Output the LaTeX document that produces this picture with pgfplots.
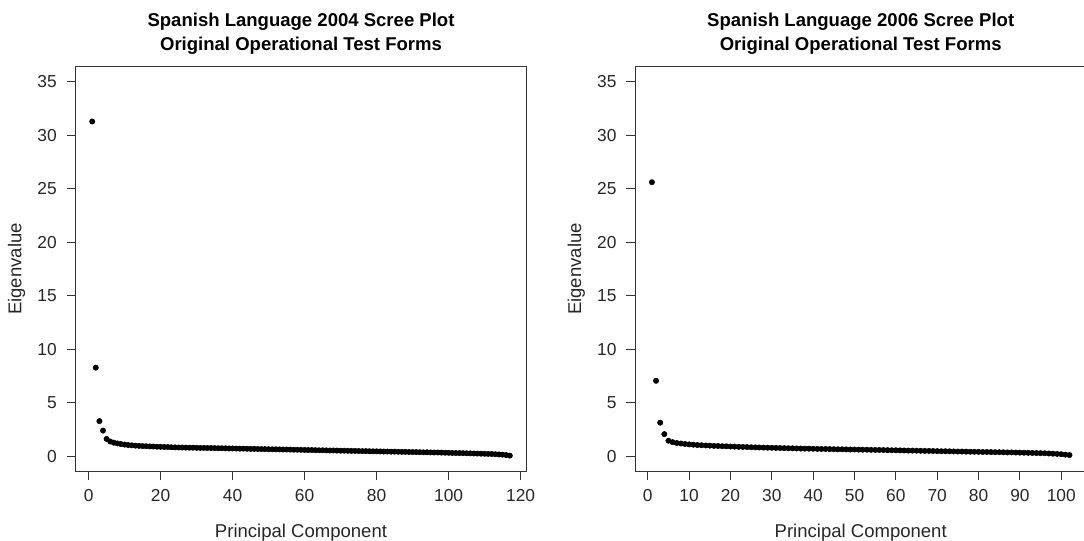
\documentclass[border=0pt]{standalone}
\usepackage{fontspec}
\setmainfont{Liberation Sans}
\usepackage{pgfplots}
\pgfplotsset{compat=1.18}

% 1 px of the 1084 x 541 layout = 0.75pt
\pgfplotsset{
  scree/.style={
    scale only axis,
    width=338.25pt, height=303pt,
    ymin=-1.4, ymax=36.4,
    ytick={0,5,...,35},
    xtick pos=bottom, ytick pos=left,
    tick align=outside,
    major tick length=6.75pt,
    axis line style={line width=0.75pt, black!80},
    every tick/.style={line width=0.75pt, black!80},
    /pgf/number format/assume math mode=true,
    tick label style={font=\fontsize{13}{15}\selectfont, text=black!85},
    xticklabel style={inner sep=0pt, anchor=north, yshift=-7.2pt},
    yticklabel style={inner sep=0pt, anchor=east, xshift=-7.1pt},
    label style={font=\fontsize{13.9}{16}\selectfont, text=black!85},
    xlabel style={at={(axis description cs:0.5,0)}, anchor=base, inner sep=0pt, yshift=-49.5pt},
    ylabel style={at={([xshift=-40.6pt]axis description cs:0,0.5)}, anchor=base, inner sep=0pt},
    xlabel={Principal Component},
    ylabel={Eigenvalue},
    title style={at={(axis description cs:0.5,1)}, anchor=north, inner sep=0pt,
      yshift=34.5pt, align=center, font=\bfseries\fontsize{13.9}{18}\selectfont},
  },
  scree dots/.style={only marks, mark=*, mark size=2pt, black},
}

\begin{document}
\begin{tikzpicture}
\path[use as bounding box] (0,0) rectangle (813pt,-405.75pt);
\clip (0,0) rectangle (813pt,-405.75pt);

% ---- 2004 forms ----
\begin{axis}[scree,
  at={(56.63pt,-353.25pt)}, anchor=south west,
  xmin=-3.64, xmax=121.64,
  xtick={0,20,...,120},
  title={Spanish Language 2004 Scree Plot\\Original Operational Test Forms}]
\addplot[scree dots] table {
x y
1 31.30
2 8.27
3 3.27
4 2.38
5 1.60
6 1.36
7 1.25
8 1.18
9 1.12
10 1.07
11 1.03
12 1.00
13 0.97
14 0.95
15 0.93
16 0.92
17 0.90
18 0.89
19 0.87
20 0.86
21 0.85
22 0.84
23 0.82
24 0.81
25 0.80
26 0.80
27 0.79
28 0.78
29 0.78
30 0.77
31 0.76
32 0.76
33 0.75
34 0.75
35 0.74
36 0.73
37 0.73
38 0.72
39 0.71
40 0.71
41 0.70
42 0.69
43 0.69
44 0.68
45 0.67
46 0.67
47 0.66
48 0.65
49 0.65
50 0.64
51 0.63
52 0.63
53 0.62
54 0.61
55 0.61
56 0.60
57 0.59
58 0.59
59 0.58
60 0.57
61 0.56
62 0.56
63 0.55
64 0.54
65 0.54
66 0.53
67 0.52
68 0.52
69 0.51
70 0.50
71 0.50
72 0.49
73 0.48
74 0.48
75 0.47
76 0.46
77 0.46
78 0.45
79 0.44
80 0.44
81 0.43
82 0.42
83 0.42
84 0.41
85 0.41
86 0.40
87 0.39
88 0.39
89 0.38
90 0.37
91 0.37
92 0.36
93 0.35
94 0.35
95 0.34
96 0.33
97 0.33
98 0.32
99 0.31
100 0.30
101 0.29
102 0.28
103 0.28
104 0.27
105 0.26
106 0.25
107 0.24
108 0.23
109 0.22
110 0.21
111 0.20
112 0.19
113 0.17
114 0.15
115 0.13
116 0.09
117 0.04
};
\end{axis}

% ---- 2006 forms ----
\begin{axis}[scree,
  at={(476.4pt,-353.25pt)}, anchor=south west,
  xmin=-3.04, xmax=106.04,
  xtick={0,10,...,100},
  title={Spanish Language 2006 Scree Plot\\Original Operational Test Forms}]
\addplot[scree dots] table {
x y
1 25.62
2 7.04
3 3.12
4 2.05
5 1.43
6 1.30
7 1.22
8 1.17
9 1.13
10 1.09
11 1.06
12 1.03
13 1.01
14 0.99
15 0.97
16 0.95
17 0.94
18 0.92
19 0.91
20 0.89
21 0.88
22 0.86
23 0.85
24 0.84
25 0.82
26 0.81
27 0.80
28 0.79
29 0.78
30 0.77
31 0.76
32 0.75
33 0.74
34 0.73
35 0.72
36 0.71
37 0.70
38 0.69
39 0.69
40 0.68
41 0.67
42 0.66
43 0.66
44 0.65
45 0.64
46 0.63
47 0.63
48 0.62
49 0.61
50 0.61
51 0.60
52 0.59
53 0.59
54 0.58
55 0.57
56 0.57
57 0.56
58 0.55
59 0.54
60 0.54
61 0.53
62 0.52
63 0.51
64 0.51
65 0.50
66 0.49
67 0.48
68 0.48
69 0.47
70 0.46
71 0.45
72 0.45
73 0.44
74 0.43
75 0.42
76 0.42
77 0.41
78 0.40
79 0.40
80 0.39
81 0.38
82 0.38
83 0.37
84 0.36
85 0.36
86 0.35
87 0.34
88 0.34
89 0.33
90 0.32
91 0.31
92 0.30
93 0.29
94 0.28
95 0.27
96 0.26
97 0.24
98 0.22
99 0.20
100 0.17
101 0.13
102 0.09
};
\end{axis}
\end{tikzpicture}
\end{document}
